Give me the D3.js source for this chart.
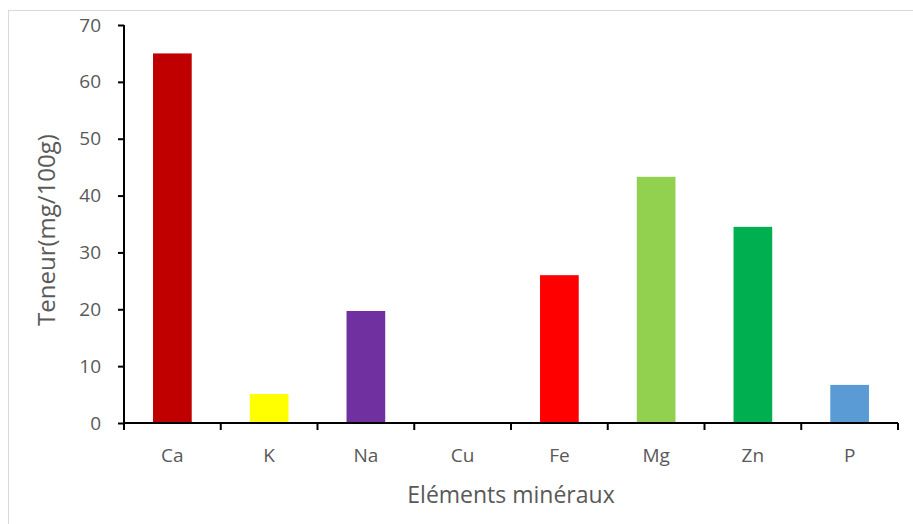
<!DOCTYPE html>
<html>
<head>
<meta charset="utf-8">
<script src="https://cdn.jsdelivr.net/npm/d3@7"></script>
<style>
  html, body { margin: 0; padding: 0; background: #fff; }
  text { font-family: "Open Sans", "Liberation Sans", sans-serif; fill: #595959; }
</style>
</head>
<body>
<svg id="chart" width="913" height="524"></svg>
<script>
const categories = ["Ca", "K", "Na", "Cu", "Fe", "Mg", "Zn", "P"];
const values = [65.0, 5.1, 19.7, 0, 26.0, 43.3, 34.5, 6.7];
const colors = ["#C00000", "#FFFF00", "#7030A0", "#4472C4", "#FF0000", "#92D050", "#00B050", "#5B9BD5"];
const yTicks = [0, 10, 20, 30, 40, 50, 60, 70];
const xTitle = "Eléments minéraux";
const yTitle = "Teneur(mg/100g)";

const svg = d3.select("#chart");
const margin = { left: 124, right: 15, top: 25, bottom: 101 };
const W = 913, H = 524;

svg.append("rect")
  .attr("x", 8.5).attr("y", 10.5)
  .attr("width", W).attr("height", H)
  .attr("fill", "#fff").attr("stroke", "#d9d9d9").attr("stroke-width", 1);

const x = d3.scaleBand().domain(categories)
  .range([margin.left, W - margin.right]).paddingInner(0.6).paddingOuter(0.3);
const y = d3.scaleLinear().domain([0, 70]).range([H - margin.bottom, margin.top]);

// bars
svg.append("g").selectAll("rect").data(categories).join("rect")
  .attr("x", d => x(d))
  .attr("width", x.bandwidth())
  .attr("y", (d, i) => y(values[i]))
  .attr("height", (d, i) => y(0) - y(values[i]))
  .attr("fill", (d, i) => colors[i]);

// y axis
const yAxis = svg.append("g")
  .attr("transform", `translate(${margin.left},0)`)
  .call(d3.axisLeft(y).tickValues(yTicks).tickSize(6).tickPadding(17).tickSizeOuter(0));
yAxis.select(".domain").attr("stroke", "#000").attr("stroke-width", 2)
  .attr("d", `M0,${y(70)}V${y(0) + 7}`);
yAxis.selectAll(".tick line").attr("stroke", "#000").attr("stroke-width", 2);
yAxis.selectAll(".tick text").attr("font-size", 19).style("font-family", "'Open Sans', sans-serif").attr("fill", "#595959");

// x axis
const xAxisG = svg.append("g").attr("transform", `translate(0,${y(0)})`);
xAxisG.append("line")
  .attr("x1", margin.left).attr("x2", W - margin.right)
  .attr("y1", 0).attr("y2", 0)
  .attr("stroke", "#000").attr("stroke-width", 2);
const boundaries = d3.range(categories.length + 1).map(i => margin.left + i * ((W - margin.right - margin.left) / categories.length));
xAxisG.selectAll("line.tk").data(boundaries).join("line").attr("class", "tk")
  .attr("x1", d => d).attr("x2", d => d)
  .attr("y1", 0).attr("y2", 7)
  .attr("stroke", "#000").attr("stroke-width", 2);
xAxisG.selectAll("text.lbl").data(categories).join("text").attr("class", "lbl")
  .attr("x", d => x(d) + x.bandwidth() / 2)
  .attr("y", 39)
  .attr("text-anchor", "middle")
  .attr("font-size", 19)
  .text(d => d);

// titles
svg.append("text")
  .attr("x", (margin.left + W - margin.right) / 2)
  .attr("y", 503)
  .attr("text-anchor", "middle")
  .attr("font-size", 23)
  .text(xTitle);

svg.append("text")
  .attr("transform", `translate(55,230) rotate(-90)`)
  .attr("text-anchor", "middle")
  .attr("font-size", 24)
  .text(yTitle);
</script>
</body>
</html>
